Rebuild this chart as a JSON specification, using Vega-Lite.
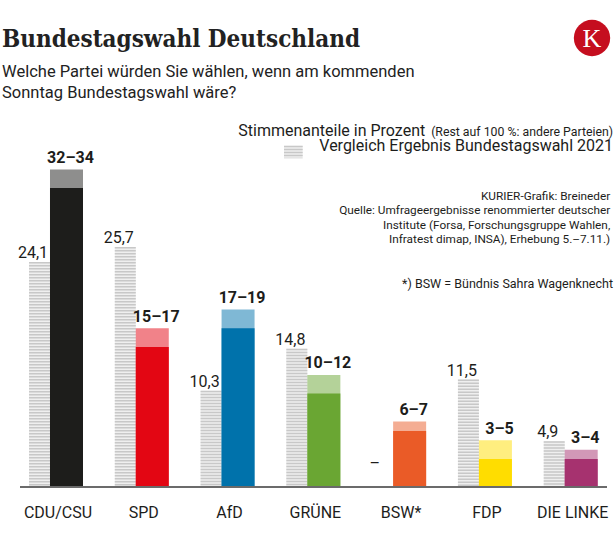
{
  "$schema": "https://vega.github.io/schema/vega-lite/v6.json",
  "width": 587,
  "height": 377,
  "autosize": {"type": "none"},
  "padding": {"left": 20, "top": 110, "right": 9, "bottom": 61},
  "background": "#ffffff",
  "config": {"view": {"stroke": null}, "font": "Roboto"},
  "title": {
    "text": "Bundestagswahl Deutschland",
    "subtitle": ["Welche Partei würden Sie wählen, wenn am kommenden", "Sonntag Bundestagswahl wäre?"],
    "anchor": "start",
    "frame": "group",
    "dx": -18,
    "offset": -81.5,
    "font": "DejaVu Serif Condensed, DejaVu Serif",
    "fontWeight": "bold",
    "fontSize": 24,
    "color": "#222222",
    "subtitleFont": "Roboto",
    "subtitleFontSize": 16.5,
    "subtitleColor": "#222222",
    "subtitleLineHeight": 20.7,
    "subtitlePadding": 12
  },
  "data": {
    "values": [
      {"party": "CDU/CSU", "old21": 24.1, "old_label": "24,1", "lo": 32, "hi": 34, "range": "32–34"},
      {"party": "SPD", "old21": 25.7, "old_label": "25,7", "lo": 15, "hi": 17, "range": "15–17"},
      {"party": "AfD", "old21": 10.3, "old_label": "10,3", "lo": 17, "hi": 19, "range": "17–19"},
      {"party": "GRÜNE", "old21": 14.8, "old_label": "14,8", "lo": 10, "hi": 12, "range": "10–12"},
      {"party": "BSW*", "old21": null, "old_label": "–", "lo": 6, "hi": 7, "range": "6–7"},
      {"party": "FDP", "old21": 11.5, "old_label": "11,5", "lo": 3, "hi": 5, "range": "3–5"},
      {"party": "DIE LINKE", "old21": 4.9, "old_label": "4,9", "lo": 3, "hi": 4, "range": "3–4"}
    ]
  },
  "layer": [
    {
      "transform": [{"filter": "isValid(datum.old21)"}],
      "mark": {"type": "bar", "width": 21, "xOffset": -10.5, "fill": "#efefef"},
      "encoding": {
        "x": {
          "field": "party", "type": "nominal",
          "scale": {"domain": ["CDU/CSU", "SPD", "AfD", "GRÜNE", "BSW*", "FDP", "DIE LINKE"], "range": [-12.9, 587.6], "paddingInner": 0, "paddingOuter": 0},
          "axis": {"title": null, "domain": false, "ticks": false, "tickSize": 0, "labelAngle": 0, "labelFont": "Roboto", "labelFontSize": 16, "labelColor": "#1d1d1b", "labelBaseline": "alphabetic", "labelPadding": 30, "labelOffset": 8}
        },
        "y": {"field": "old21", "type": "quantitative", "scale": {"domain": [0, 40.36], "nice": false, "zero": true}, "axis": null}
      }
    },
    {
      "transform": [{"filter": "isValid(datum.old21)"}],
      "mark": {"type": "rule", "strokeWidth": 21, "xOffset": -10.5, "stroke": "#c8c8c8", "strokeDash": [1.5, 1.5]},
      "encoding": {
        "x": {"field": "party", "type": "nominal"},
        "y": {"field": "old21", "type": "quantitative"},
        "y2": {"datum": 0}
      }
    },
    {
      "mark": {"type": "bar", "width": 33, "xOffset": 16.5, "opacity": 0.5},
      "encoding": {
        "x": {"field": "party", "type": "nominal"},
        "y": {"field": "hi", "type": "quantitative"},
        "color": {
          "field": "party", "type": "nominal", "legend": null,
          "scale": {"domain": ["CDU/CSU", "SPD", "AfD", "GRÜNE", "BSW*", "FDP", "DIE LINKE"], "range": ["#1d1d1b", "#e30613", "#0072ab", "#6aa633", "#ea5b27", "#ffdd00", "#a6326f"]}
        }
      }
    },
    {
      "mark": {"type": "bar", "width": 33, "xOffset": 16.5, "opacity": 1},
      "encoding": {
        "x": {"field": "party", "type": "nominal"},
        "y": {"field": "lo", "type": "quantitative"},
        "color": {"field": "party", "type": "nominal", "legend": null}
      }
    },
    {
      "mark": {"type": "text", "xOffset": 20.5, "dy": -6.5, "align": "center", "baseline": "alphabetic", "font": "Roboto", "fontWeight": "bold", "fontSize": 16, "fill": "#1d1d1b"},
      "encoding": {
        "x": {"field": "party", "type": "nominal"},
        "y": {"field": "hi", "type": "quantitative"},
        "text": {"field": "range"}
      }
    },
    {
      "transform": [{"filter": "isValid(datum.old21)"}],
      "mark": {"type": "text", "xOffset": -17, "dy": -4, "align": "center", "baseline": "alphabetic", "font": "Roboto", "fontSize": 16, "fill": "#1d1d1b"},
      "encoding": {
        "x": {"field": "party", "type": "nominal"},
        "y": {"field": "old21", "type": "quantitative"},
        "text": {"field": "old_label"}
      }
    },
    {
      "transform": [{"filter": "!isValid(datum.old21)"}],
      "mark": {"type": "text", "xOffset": -18.5, "align": "center", "baseline": "middle", "font": "Roboto", "fontSize": 16, "fill": "#1d1d1b"},
      "encoding": {
        "x": {"field": "party", "type": "nominal"},
        "y": {"datum": 2.46, "type": "quantitative"},
        "text": {"field": "old_label"}
      }
    },
    {
      "mark": {"type": "rule", "stroke": "#6b6b6b", "strokeWidth": 1},
      "encoding": {"y": {"datum": 0, "type": "quantitative"}}
    },
    {
      "data": {"values": [{}]},
      "layer": [
        {
          "mark": {"type": "text", "text": "(Rest auf 100 %: andere Parteien)", "xOffset": 48.3, "align": "right", "baseline": "alphabetic", "font": "Roboto", "fontSize": 12.3, "fill": "#1d1d1b"},
          "encoding": {"x": {"datum": "DIE LINKE", "type": "nominal"}, "y": {"datum": 37.63, "type": "quantitative"}}
        },
        {
          "mark": {"type": "text", "text": "Stimmenanteile in Prozent", "xOffset": -139.5, "align": "right", "baseline": "alphabetic", "font": "Roboto", "fontSize": 16, "fill": "#1d1d1b"},
          "encoding": {"x": {"datum": "DIE LINKE", "type": "nominal"}, "y": {"datum": 37.63, "type": "quantitative"}}
        },
        {
          "mark": {"type": "text", "text": "Vergleich Ergebnis Bundestagswahl 2021", "xOffset": 48.3, "align": "right", "baseline": "alphabetic", "font": "Roboto", "fontSize": 16, "fill": "#1d1d1b"},
          "encoding": {"x": {"datum": "DIE LINKE", "type": "nominal"}, "y": {"datum": 35.97, "type": "quantitative"}}
        },
        {
          "mark": {"type": "bar", "width": 18.7, "xOffset": -14, "fill": "#efefef"},
          "encoding": {"x": {"datum": "GRÜNE", "type": "nominal"}, "y": {"datum": 36.53, "type": "quantitative"}, "y2": {"datum": 35.2}}
        },
        {
          "mark": {"type": "rule", "strokeWidth": 18.7, "xOffset": -14, "stroke": "#c8c8c8", "strokeDash": [1.5, 1.5]},
          "encoding": {"x": {"datum": "GRÜNE", "type": "nominal"}, "y": {"datum": 36.53, "type": "quantitative"}, "y2": {"datum": 35.2}}
        },
        {
          "mark": {"type": "text", "text": ["KURIER-Grafik: Breineder", "Quelle: Umfrageergebnisse renommierter deutscher", "Institute  (Forsa, Forschungsgruppe Wahlen,", "Infratest dimap, INSA), Erhebung 5.–7.11.)"], "lineHeight": 14.3, "xOffset": 45.5, "align": "right", "baseline": "alphabetic", "font": "Roboto", "fontSize": 11.8, "fill": "#1d1d1b"},
          "encoding": {"x": {"datum": "DIE LINKE", "type": "nominal"}, "y": {"datum": 30.72, "type": "quantitative"}}
        },
        {
          "mark": {"type": "text", "text": "*) BSW = Bündnis Sahra Wagenknecht", "xOffset": 48.3, "align": "right", "baseline": "alphabetic", "font": "Roboto", "fontSize": 12.5, "fill": "#1d1d1b"},
          "encoding": {"x": {"datum": "DIE LINKE", "type": "nominal"}, "y": {"datum": 21.34, "type": "quantitative"}}
        },
        {
          "mark": {"type": "point", "shape": "circle", "size": 1320, "filled": true, "fill": "#c50e1f", "opacity": 1, "strokeWidth": 0, "xOffset": 27.3},
          "encoding": {"x": {"datum": "DIE LINKE", "type": "nominal"}, "y": {"datum": 48.07, "type": "quantitative"}}
        },
        {
          "mark": {"type": "text", "text": "K", "xOffset": 27.3, "dy": 1, "align": "center", "baseline": "middle", "font": "Liberation Serif", "fontSize": 26, "fill": "#ffffff"},
          "encoding": {"x": {"datum": "DIE LINKE", "type": "nominal"}, "y": {"datum": 48.07, "type": "quantitative"}}
        }
      ]
    }
  ]
}
